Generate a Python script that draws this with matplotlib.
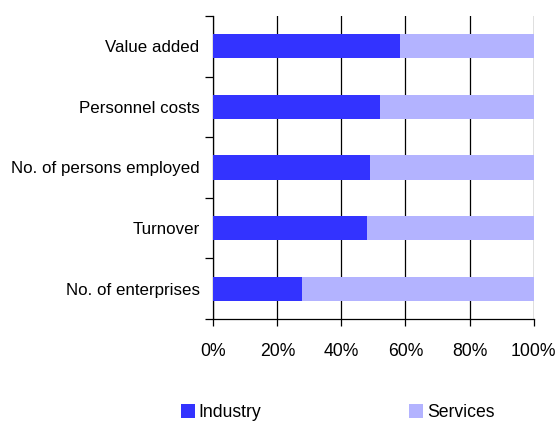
import numpy as np
import matplotlib.pyplot as plt
from matplotlib.ticker import FixedLocator, PercentFormatter

categories = ["No. of enterprises", "Turnover", "No. of persons employed",
              "Personnel costs", "Value added"]
industry = [27.7, 48.0, 49.0, 52.0, 58.2]
services = [100 - v for v in industry]

plt.rcParams['font.family'] = ['Liberation Sans', 'DejaVu Sans']

fig = plt.figure(figsize=(5.58, 4.21), dpi=100)
ax = fig.add_axes([0.3826, 0.2423, 0.5735, 0.7197])

y = np.arange(len(categories))
ax.barh(y, industry, height=0.4, color='#3333ff', label='Industry', zorder=3)
ax.barh(y, services, left=industry, height=0.4, color='#b3b3ff',
        label='Services', zorder=3)

ax.set_xlim(0, 100)
ax.set_ylim(-0.5, len(categories) - 0.5)
ax.set_xticks(np.arange(0, 101, 20))
ax.xaxis.set_major_formatter(PercentFormatter(decimals=0))
ax.xaxis.grid(True, color='black', linewidth=0.9, zorder=1)
ax.tick_params(axis='x', length=5, width=0.9, pad=12, labelsize=12.7)

ax.set_yticks(y)
ax.set_yticklabels(categories)
ax.yaxis.set_minor_locator(FixedLocator(np.arange(-0.5, len(categories), 1)))
ax.tick_params(axis='y', which='major', length=0, pad=10, labelsize=12.2)
ax.tick_params(axis='y', which='minor', length=6, width=0.9)

for side in ['top', 'right']:
    ax.spines[side].set_visible(False)
for side in ['left', 'bottom']:
    ax.spines[side].set_linewidth(0.9)

fig.legend(loc='lower left', bbox_to_anchor=(0.324, 0.0), ncol=2,
           frameon=False, fontsize=12.7, handlelength=0.8, handleheight=0.8,
           handletextpad=0.2, columnspacing=8.4, borderpad=0,
           borderaxespad=0)

fig.savefig('out.png', dpi=100)
